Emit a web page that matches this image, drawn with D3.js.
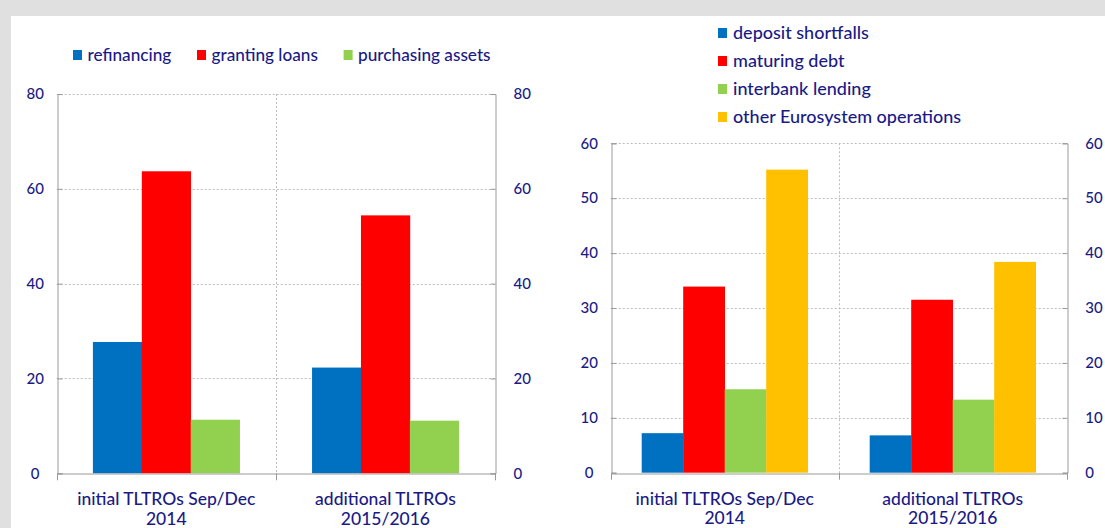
<!DOCTYPE html>
<html>
<head>
<meta charset="utf-8">
<script src="https://cdn.jsdelivr.net/npm/d3@7"></script>
<style>
  html, body { margin: 0; padding: 0; background: #e0e0e0; }
  svg { display: block; }
  text { font-family: Lato, "Open Sans", sans-serif; fill: #1a1a86; font-weight: 500; }
</style>
</head>
<body>
<svg id="chart" width="1105" height="528"></svg>
<script>
// ---- data ----
const categories = ["initial TLTROs Sep/Dec|2014", "additional TLTROs|2015/2016"];

const leftSeries = ["refinancing", "granting loans", "purchasing assets"];
const leftValues = [
  [27.7, 63.7, 11.3],
  [22.3, 54.4, 11.1]
];
const leftTicks = [0, 20, 40, 60, 80];

const rightSeries = ["deposit shortfalls", "maturing debt", "interbank lending", "other Eurosystem operations"];
const rightValues = [
  [7.2, 33.9, 15.2, 55.2],
  [6.8, 31.5, 13.3, 38.4]
];
const rightTicks = [0, 10, 20, 30, 40, 50, 60];

const leftColors = ["#0070c0", "#ff0000", "#92d050"];
const rightColors = ["#0070c0", "#ff0000", "#92d050", "#ffc000"];

// ---- drawing ----
const svg = d3.select("#chart");
svg.append("rect").attr("x", 11).attr("y", 16).attr("width", 1105 - 11).attr("height", 528 - 16).attr("fill", "#ffffff");

function panel(cfg) {
  const g = svg.append("g");
  const x = d3.scaleBand().domain(categories).range([cfg.x0, cfg.x1]).padding(0);
  const y = d3.scaleLinear().domain([0, cfg.max]).range([cfg.yb, cfg.yt]);
  const xs = d3.scaleBand().domain(cfg.series).range([0, x.bandwidth()]).paddingInner(0).paddingOuter(cfg.pad);

  // gridlines
  g.append("g").selectAll("line").data(cfg.ticks.filter(t => t > 0)).join("line")
    .attr("x1", cfg.x0).attr("x2", cfg.x1)
    .attr("y1", d => Math.round(y(d)) + 0.5).attr("y2", d => Math.round(y(d)) + 0.5)
    .attr("stroke", "#bdbdbd").attr("stroke-width", 1).attr("stroke-dasharray", "2,2");

  // divider between categories
  g.append("line")
    .attr("x1", Math.round(x(categories[1])) + 0.5).attr("x2", Math.round(x(categories[1])) + 0.5)
    .attr("y1", cfg.yt).attr("y2", cfg.yb)
    .attr("stroke", "#bdbdbd").attr("stroke-dasharray", "2,2");

  // bars
  categories.forEach((c, i) => {
    g.append("g").selectAll("rect").data(cfg.values[i]).join("rect")
      .attr("x", (d, j) => x(c) + xs(cfg.series[j]))
      .attr("width", xs.bandwidth() + 0.3)
      .attr("y", d => y(d))
      .attr("height", d => y(0) - y(d))
      .attr("fill", (d, j) => cfg.colors[j]);
  });

  // axes
  const axisColor = "#9a9a9a";
  const yl = g.append("g").attr("transform", `translate(${Math.round(cfg.x0) + 0.5},0)`)
    .call(d3.axisRight(y).tickValues(cfg.ticks).tickSize(5).tickFormat(""));
  const yr = g.append("g").attr("transform", `translate(${Math.round(cfg.x1) + 0.5},0)`)
    .call(d3.axisLeft(y).tickValues(cfg.ticks).tickSize(5).tickFormat(""));
  const xb = g.append("g").attr("transform", `translate(0,${Math.round(cfg.yb) + 0.5})`)
    .call(d3.axisBottom(x).tickSize(0).tickFormat(""));
  [yl, yr, xb].forEach(a => {
    a.select(".domain").attr("stroke", axisColor);
    a.selectAll(".tick line").attr("stroke", axisColor);
  });
  // bottom ticks at band boundaries
  g.append("g").selectAll("line").data([x(categories[0]), x(categories[1]), cfg.x1]).join("line")
    .attr("x1", d => Math.round(d) + 0.5).attr("x2", d => Math.round(d) + 0.5)
    .attr("y1", cfg.yb).attr("y2", cfg.yb + 7)
    .attr("stroke", axisColor);

  // tick labels
  g.append("g").selectAll("text").data(cfg.ticks).join("text")
    .attr("x", cfg.x0 - 21.5).attr("y", d => y(d)).attr("dy", "0.35em")
    .attr("text-anchor", "middle").attr("font-size", 15).text(d => d);
  g.append("g").selectAll("text").data(cfg.ticks).join("text")
    .attr("x", cfg.x1 + 18.5).attr("y", d => y(d)).attr("dy", "0.35em")
    .attr("text-anchor", "start").attr("font-size", 15).text(d => d);

  // category labels
  categories.forEach(c => {
    const lines = c.split("|");
    const t = g.append("text").attr("text-anchor", "middle").attr("font-size", 17.5)
      .attr("x", x(c) + x.bandwidth() / 2).attr("y", cfg.yb + 32);
    lines.forEach((l, k) => t.append("tspan").attr("x", x(c) + x.bandwidth() / 2).attr("dy", k ? 19.5 : 0).text(l));
  });
  return g;
}

panel({ x0: 56.7, x1: 495, yt: 94, yb: 473.3, max: 80, ticks: leftTicks,
  series: leftSeries, values: leftValues, colors: leftColors, pad: 0.74 });
panel({ x0: 610.7, x1: 1066.7, yt: 143.3, yb: 472.7, max: 60, ticks: rightTicks,
  series: rightSeries, values: rightValues, colors: rightColors, pad: 0.747 });

// legends
const legL = svg.append("g");
const legLx = [73, 197, 343.6];
leftSeries.forEach((s, i) => {
  legL.append("rect").attr("x", legLx[i]).attr("y", 50).attr("width", 9).attr("height", 10).attr("fill", leftColors[i]);
  legL.append("text").attr("x", legLx[i] + 14.5).attr("y", 55).attr("dy", "0.35em").attr("font-size", 17.2).text(s);
});
const legR = svg.append("g");
rightSeries.forEach((s, i) => {
  const yy = 33 + i * 28;
  legR.append("rect").attr("x", 718).attr("y", yy - 5).attr("width", 9).attr("height", 10).attr("fill", rightColors[i]);
  legR.append("text").attr("x", 733).attr("y", yy).attr("dy", "0.35em").attr("font-size", 18).text(s);
});
</script>
</body>
</html>
